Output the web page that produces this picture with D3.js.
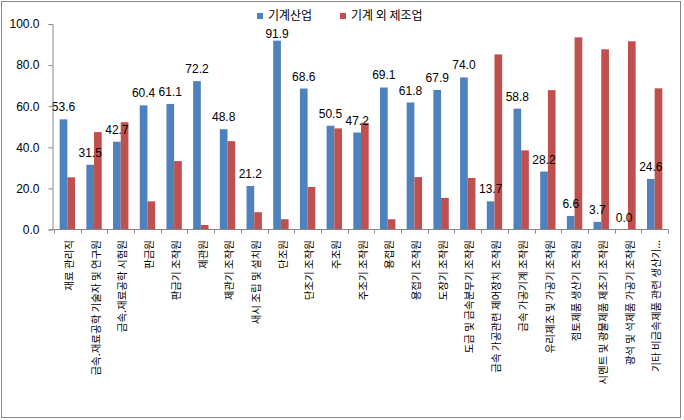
<!DOCTYPE html>
<html><head><meta charset="utf-8">
<script src="https://cdn.jsdelivr.net/npm/d3@7"></script>
<style>
html,body{margin:0;padding:0;background:#fff;}
svg{display:block;}
</style></head>
<body>
<svg id="chart" width="684" height="420"></svg>
<script>
const categories = [
  "재료 관리직",
  "금속.재료공학 기술자 및 연구원",
  "금속.재료공학 시험원",
  "판금원",
  "판금기 조작원",
  "제관원",
  "제관기 조작원",
  "새시 조립 및 설치원",
  "단조원",
  "단조기 조작원",
  "주조원",
  "주조기 조작원",
  "용접원",
  "용접기 조작원",
  "도장기 조작원",
  "도금 및 금속분무기 조작원",
  "금속 가공관련 제어장치 조작원",
  "금속 가공기계 조작원",
  "유리제조 및 가공기 조작원",
  "점토제품 생산기 조작원",
  "시멘트 및 광물제품 제조기 조작원",
  "광석 및 석제품 가공기 조작원",
  "기타 비금속제품 관련 생산기..."
];
const seriesNames = ["기계산업", "기계 외 제조업"];
const machinery = [53.6, 31.5, 42.7, 60.4, 61.1, 72.2, 48.8, 21.2, 91.9, 68.6, 50.5, 47.2, 69.1, 61.8, 67.9, 74.0, 13.7, 58.8, 28.2, 6.6, 3.7, 0.0, 24.6];
const otherManufacturing = [25.4, 47.4, 52.2, 13.7, 33.3, 2.2, 43.0, 8.4, 5.0, 20.7, 49.2, 51.9, 5.0, 25.5, 15.4, 25.1, 85.2, 38.5, 67.8, 93.5, 87.7, 91.6, 68.7];
const yTicks = [0, 20, 40, 60, 80, 100];

const colors = ["#4F81BD", "#C0504D"];
const axisColor = "#868686";
const numFont = "'Liberation Sans', Arial, sans-serif";
const krFont = "'Noto Sans CJK KR', 'Noto Sans', sans-serif";

const svg = d3.select("#chart");

// outer border
svg.append("rect").attr("x", 1.5).attr("y", 1.5).attr("width", 679).attr("height", 416)
  .attr("fill", "#fff").attr("stroke", axisColor).attr("stroke-width", 1);

const x0 = 54, x1 = 668, yTop = 24, yBot = 229.5;
const x = d3.scaleBand().domain(categories).range([x0, x1]).paddingInner(0).paddingOuter(0);
const y = d3.scaleLinear().domain([0, 100]).range([yBot, yTop]);
const bw = x.bandwidth() * 0.288;

// bars
const g = svg.append("g");
const data = categories.map((c, i) => ({c, a: machinery[i], b: otherManufacturing[i]}));
const cx = d => x(d.c) + x.bandwidth() / 2;

g.selectAll("rect.a").data(data).join("rect").attr("class", "a")
  .attr("x", d => cx(d) - bw).attr("width", bw)
  .attr("y", d => y(d.a)).attr("height", d => y(0) - y(d.a))
  .attr("fill", colors[0]);
g.selectAll("rect.b").data(data).join("rect").attr("class", "b")
  .attr("x", d => cx(d)).attr("width", bw)
  .attr("y", d => y(d.b)).attr("height", d => y(0) - y(d.b))
  .attr("fill", colors[1]);

// data labels on first series
g.selectAll("text.lbl").data(data).join("text").attr("class", "lbl")
  .attr("x", d => cx(d) - bw / 2)
  .attr("y", d => Math.max(y(d.a) - 8, 37.5))
  .attr("text-anchor", "middle")
  .attr("font-family", numFont).attr("font-size", 12).attr("fill", "#000")
  .text(d => d.a.toFixed(1));

// y axis
const yAxis = d3.axisLeft(y).tickValues(yTicks).tickSize(4).tickPadding(9)
  .tickFormat(d => d.toFixed(1));
const ya = svg.append("g").attr("transform", `translate(${x0 - 1.5},0)`).call(yAxis);
ya.select(".domain").attr("stroke", axisColor);
ya.selectAll(".tick line").attr("stroke", axisColor);
ya.selectAll(".tick text").attr("font-family", numFont).attr("font-size", 12).attr("fill", "#000");

// x axis
const xa = svg.append("g").attr("transform", `translate(0,${yBot})`);
xa.append("line").attr("x1", x0 - 1.5).attr("x2", x1).attr("y1", 0).attr("y2", 0)
  .attr("stroke", axisColor);
const bounds = categories.map(c => x(c)).concat([x1]);
xa.selectAll("line.tk").data(bounds).join("line").attr("class", "tk")
  .attr("x1", d => Math.round(d) + 0.5).attr("x2", d => Math.round(d) + 0.5)
  .attr("y1", 0).attr("y2", 4).attr("stroke", axisColor);
xa.selectAll("text.xl").data(categories).join("text").attr("class", "xl")
  .attr("transform", c => `translate(${x(c) + x.bandwidth() / 2 + 2},${240 - yBot}) rotate(-90)`)
  .attr("text-anchor", "end").attr("dy", "0.35em")
  .attr("font-family", krFont).attr("font-size", 10.5).attr("fill", "#000")
  .text(c => c);

// legend
const legend = svg.append("g");
const legX = [257, 340];
seriesNames.forEach((n, i) => {
  legend.append("rect").attr("x", legX[i]).attr("y", 13).attr("width", 6).attr("height", 6).attr("fill", colors[i]);
  legend.append("text").attr("x", legX[i] + 11).attr("y", 16).attr("dy", "0.35em")
    .attr("font-family", krFont).attr("font-size", 12).attr("fill", "#000").text(n);
});
</script>
</body></html>
